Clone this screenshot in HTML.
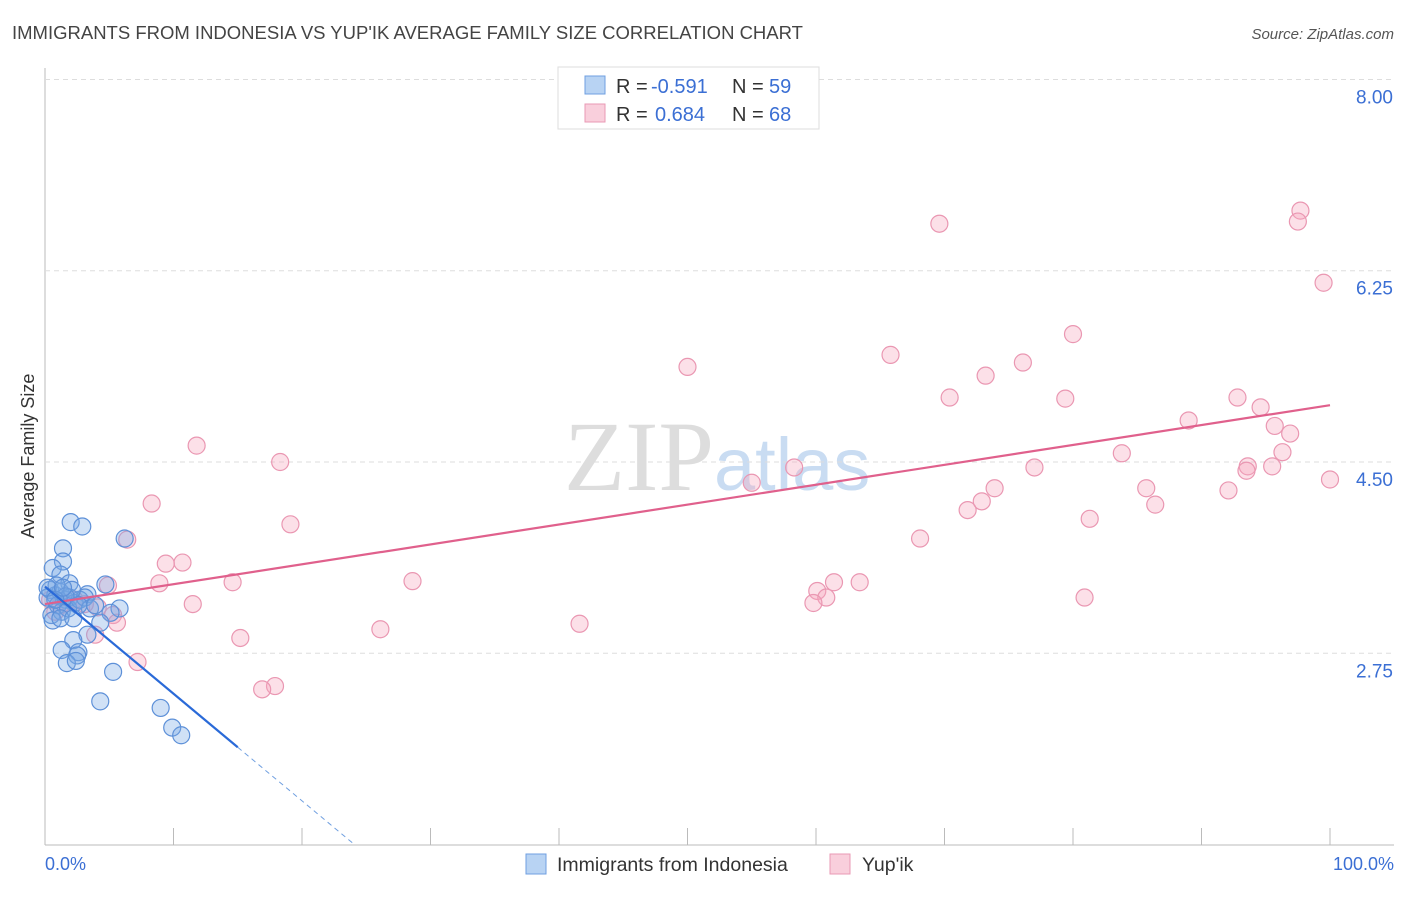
<!DOCTYPE html>
<html><head><meta charset="utf-8"><style>
body{margin:0;background:#fff;font-family:"Liberation Sans",sans-serif}
</style></head><body>
<svg id="chart" width="1406" height="892" xmlns="http://www.w3.org/2000/svg">
<text x="12" y="39" font-size="18.5" fill="#444">IMMIGRANTS FROM INDONESIA VS YUP'IK AVERAGE FAMILY SIZE CORRELATION CHART</text>
<text x="1394" y="39" font-size="15" fill="#555" font-style="italic" text-anchor="end">Source: ZipAtlas.com</text>
<text x="714" y="490" font-size="100" fill="#ddd" text-anchor="end" font-family="Liberation Serif">ZIP</text>
<text x="714" y="490" font-size="74" fill="#c9dcf2">atlas</text>
<g id="grid"></g><g id="marks"></g>
<text transform="translate(34,456) rotate(-90)" font-size="18" fill="#333" text-anchor="middle">Average Family Size</text>
<text x="45" y="870" font-size="18" fill="#3b6fd4">0.0%</text>
<text x="1394" y="870" font-size="18" fill="#3b6fd4" text-anchor="end">100.0%</text>
<g>
<rect x="558" y="67" width="261" height="62" fill="#fff" stroke="#ddd"/>
<rect x="585" y="76" width="20" height="18" fill="#b8d3f3" stroke="#6f9fe0"/>
<rect x="585" y="104" width="20" height="18" fill="#f9cfdc" stroke="#e99ab4"/>
<text x="616" y="93" font-size="20" fill="#333">R =</text>
<text x="651" y="93" font-size="20" fill="#3b6fd4">-0.591</text>
<text x="732" y="93" font-size="20" fill="#333">N =</text>
<text x="769" y="93" font-size="20" fill="#3b6fd4">59</text>
<text x="616" y="121" font-size="20" fill="#333">R =</text>
<text x="655" y="121" font-size="20" fill="#3b6fd4">0.684</text>
<text x="732" y="121" font-size="20" fill="#333">N =</text>
<text x="769" y="121" font-size="20" fill="#3b6fd4">68</text>
</g>
<g>
<rect x="526" y="854" width="20" height="20" fill="#b8d3f3" stroke="#6f9fe0"/>
<text x="557" y="871" font-size="19.5" fill="#333">Immigrants from Indonesia</text>
<rect x="830" y="854" width="20" height="20" fill="#f9cfdc" stroke="#e99ab4"/>
<text x="862" y="871" font-size="19.5" fill="#333">Yup'ik</text>
</g>
</svg>
<script>
const yTicks=[8.00,6.25,4.50,2.75];
const xTicks=[0,10,20,30,40,50,60,70,80,90,100];
const blueX=[2.0,2.9,6.2,1.4,1.4,0.6,1.2,1.9,4.7,3.3,5.8,5.1,4.3,3.3,2.2,1.3,2.6,2.5,1.7,2.4,5.3,4.3,9.0,9.9,10.6,0.4,0.8,1.2,1.6,0.2,1.0,1.9,2.3,0.5,1.3,1.8,2.7,3.1,3.5,0.9,0.2,2.1,3.9,0.6,1.6,2.6,0.8,1.4,1.2,2.2];
const blueY=[3.95,3.91,3.80,3.71,3.59,3.53,3.47,3.39,3.38,3.29,3.16,3.12,3.03,2.92,2.87,2.78,2.76,2.73,2.66,2.68,2.58,2.31,2.25,2.07,2.00,3.33,3.28,3.31,3.24,3.26,3.19,3.26,3.21,3.10,3.13,3.16,3.24,3.26,3.16,3.37,3.35,3.33,3.19,3.05,3.27,3.19,3.24,3.35,3.07,3.07];
const pinkX=[69.6,97.7,97.5,99.5,80.0,65.8,50.0,76.1,73.2,70.4,79.4,92.8,94.6,89.0,95.7,96.9,11.8,18.3,96.3,77.0,83.8,58.3,93.6,93.5,95.5,55.0,100,85.7,73.9,92.1,72.9,71.8,86.4,8.3,19.1,81.3,6.4,68.1,9.4,10.7,4.9,8.9,14.6,28.6,61.4,63.4,60.1,60.8,80.9,59.8,11.5,4.1,5.3,1.2,2.3,5.6,3.9,15.2,26.1,41.6,7.2,17.9,16.9,1.6,3.1,0.4,0.8];
const pinkY=[6.68,6.80,6.70,6.14,5.67,5.48,5.37,5.41,5.29,5.09,5.08,5.09,5.00,4.88,4.83,4.76,4.65,4.50,4.59,4.45,4.58,4.45,4.46,4.42,4.46,4.31,4.34,4.26,4.26,4.24,4.14,4.06,4.11,4.12,3.93,3.98,3.79,3.80,3.57,3.58,3.37,3.39,3.40,3.41,3.40,3.40,3.32,3.26,3.26,3.21,3.20,3.17,3.10,3.19,3.24,3.03,2.92,2.89,2.97,3.02,2.67,2.45,2.42,3.21,3.20,3.24,3.13];
const blueLine=[3.36,-0.098,15];
const pinkLine=[3.20,5.02];
const X=v=>45+v*12.85, Y=v=>462-(v-4.5)*109.3;
const NS='http://www.w3.org/2000/svg';
const grid=document.getElementById('grid'), marks=document.getElementById('marks');
function mk(p,tag,a){const e=document.createElementNS(NS,tag);for(const k in a)e.setAttribute(k,a[k]);p.appendChild(e);return e;}
let e=mk(grid,'line',{x1:45,y1:68,x2:45,y2:845,stroke:'#bbb'});


e=mk(grid,'line',{x1:45,y1:845,x2:1394,y2:845,stroke:'#bbb'});


yTicks.forEach(t=>{
 let g=mk(grid,'line',{x1:45,x2:1394,y1:Y(t),y2:Y(t),stroke:'#ddd','stroke-dasharray':'5,4'});
 
 
 let l=mk(grid,'text',{x:1393,y:Y(t)+24,'font-size':19,fill:'#3b6fd4','text-anchor':'end'});
 l.textContent=t.toFixed(2);
 
 
});
xTicks.forEach(t=>{
 let g=mk(grid,'line',{x1:X(t),x2:X(t),y1:828,y2:845,stroke:'#bbb'});
 
 
});
pinkX.forEach((x,i)=>{
 let c=mk(marks,'circle',{cx:X(x),cy:Y(pinkY[i]),r:8.5,fill:'rgba(245,165,190,0.35)',stroke:'#ea97b2','stroke-width':1.2});
 
 
});
blueX.forEach((x,i)=>{
 let c=mk(marks,'circle',{cx:X(x),cy:Y(blueY[i]),r:8.5,fill:'rgba(120,170,230,0.35)',stroke:'#5d90d8','stroke-width':1.2});
 
 
});
let pl=mk(marks,'line',{x1:X(0),y1:Y(pinkLine[0]),x2:X(100),y2:Y(pinkLine[1]),stroke:'#e0608c','stroke-width':2.2});


const bEnd=blueLine[2], bZero=(1-blueLine[0])/blueLine[1];
let bl=mk(marks,'line',{x1:X(0),y1:Y(blueLine[0]),x2:X(bEnd),y2:Y(blueLine[0]+blueLine[1]*bEnd),stroke:'#2a6ad8','stroke-width':2.2});


let bd=mk(marks,'line',{x1:X(bEnd),y1:Y(blueLine[0]+blueLine[1]*bEnd),x2:X(bZero),y2:Y(1),stroke:'#6f9fe0','stroke-width':1,'stroke-dasharray':'5,4'});


</script>
</body></html>
